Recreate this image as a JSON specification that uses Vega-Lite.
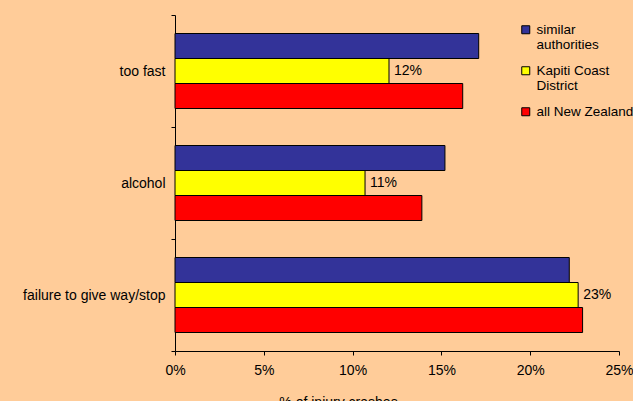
{
  "$schema": "https://vega.github.io/schema/vega-lite/v6.json",
  "width": 444,
  "height": 336,
  "autosize": {"type": "none"},
  "padding": {"left": 175, "top": 15, "right": 14, "bottom": 50},
  "background": "#FFCC99",
  "config": {"view": {"stroke": null}, "font": "Liberation Sans"},
  "data": {
    "values": [
      {"cause": "too fast", "series": "similar authorities", "value": 0.171},
      {"cause": "too fast", "series": "Kapiti Coast District", "value": 0.1205},
      {"cause": "too fast", "series": "all New Zealand", "value": 0.162},
      {"cause": "alcohol", "series": "similar authorities", "value": 0.152},
      {"cause": "alcohol", "series": "Kapiti Coast District", "value": 0.107},
      {"cause": "alcohol", "series": "all New Zealand", "value": 0.139},
      {"cause": "failure to give way/stop", "series": "similar authorities", "value": 0.222},
      {"cause": "failure to give way/stop", "series": "Kapiti Coast District", "value": 0.227},
      {"cause": "failure to give way/stop", "series": "all New Zealand", "value": 0.2295}
    ]
  },
  "encoding": {
    "y": {
      "field": "cause",
      "type": "nominal",
      "sort": ["too fast", "alcohol", "failure to give way/stop"],
      "scale": {"paddingInner": 0, "paddingOuter": 0},
      "axis": {
        "title": null,
        "tickBand": "extent",
        "labelFontSize": 14,
        "labelColor": "black",
        "domainColor": "black",
        "tickColor": "black",
        "tickSize": 4,
        "labelPadding": 6
      }
    },
    "yOffset": {
      "field": "series",
      "sort": ["similar authorities", "Kapiti Coast District", "all New Zealand"],
      "scale": {"paddingOuter": 0.74, "paddingInner": 0}
    },
    "x": {
      "field": "value",
      "type": "quantitative",
      "scale": {"domain": [0, 0.25]},
      "axis": {
        "values": [0, 0.05, 0.1, 0.15, 0.2, 0.25],
        "format": ".0%",
        "grid": false,
        "tickSize": 4,
        "labelPadding": 8,
        "labelFlush": false,
        "labelFontSize": 14,
        "labelColor": "black",
        "domainColor": "black",
        "tickColor": "black",
        "title": "% of injury crashes",
        "titleFontSize": 14,
        "titleFontWeight": "normal",
        "titleColor": "black",
        "titleX": 163,
        "titleY": 44,
        "titleBaseline": "top"
      }
    }
  },
  "layer": [
    {
      "mark": {"type": "bar", "stroke": "black", "strokeWidth": 1},
      "encoding": {
        "fill": {
          "field": "series",
          "type": "nominal",
          "scale": {
            "domain": ["similar authorities", "Kapiti Coast District", "all New Zealand"],
            "range": ["#333399", "#FFFF00", "#FF0000"]
          },
          "legend": {
            "orient": "none",
            "legendX": 344,
            "legendY": 8,
            "padding": 0,
            "title": null,
            "labelFontSize": 13.5,
            "labelColor": "black",
            "labelLimit": 200,
            "symbolType": "square",
            "symbolSize": 64,
            "symbolStrokeColor": "black",
            "symbolStrokeWidth": 1,
            "labelOffset": 4,
            "rowPadding": 11,
            "labelBaseline": "top",
            "encoding": {"labels": {"dy": {"value": -7}}},
            "labelExpr": "datum.label == 'similar authorities' ? ['similar', 'authorities'] : datum.label == 'Kapiti Coast District' ? ['Kapiti Coast', 'District'] : datum.label"
          }
        }
      }
    },
    {
      "transform": [{"filter": "datum.series === 'Kapiti Coast District'"}],
      "mark": {"type": "text", "align": "left", "baseline": "middle", "dx": 5, "fontSize": 14, "color": "black"},
      "encoding": {"text": {"field": "value", "type": "quantitative", "format": ".0%"}}
    }
  ]
}
